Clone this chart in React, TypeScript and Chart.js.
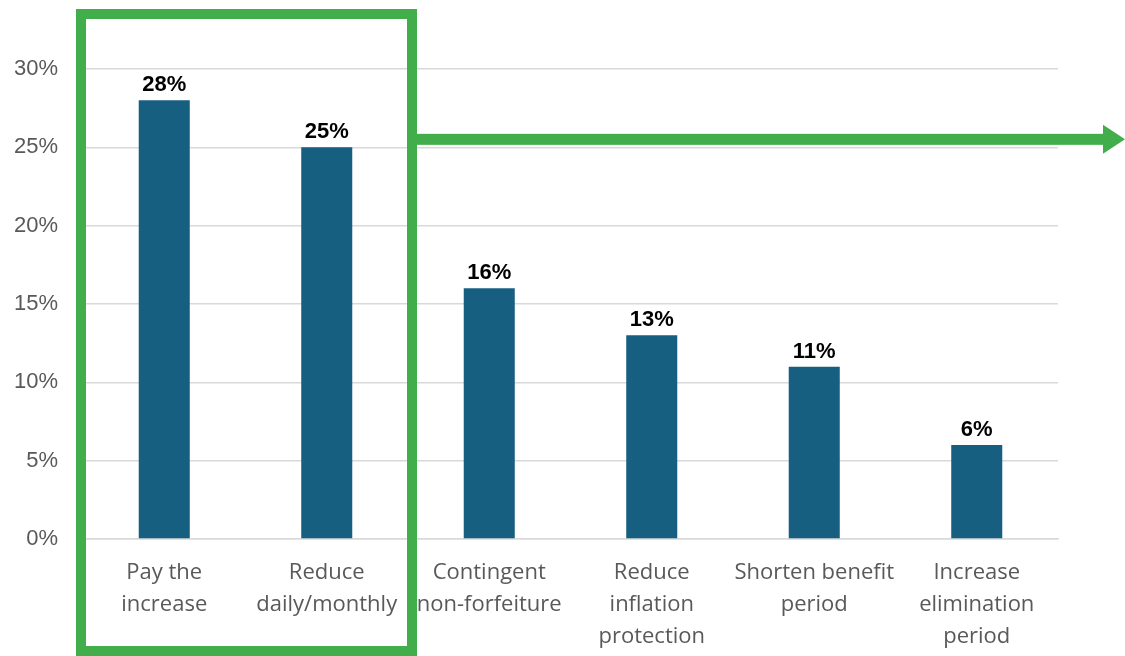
import React, { useEffect, useRef } from "react";
import { Chart, registerables } from "chart.js";

Chart.register(...registerables);

const categories: string[][] = [
  ["Pay the", "increase"],
  ["Reduce", "daily/monthly"],
  ["Contingent", "non-forfeiture"],
  ["Reduce", "inflation", "protection"],
  ["Shorten benefit", "period"],
  ["Increase", "elimination", "period"],
];
const shares: number[] = [28, 25, 16, 13, 11, 6];
const yTicks: number[] = [0, 5, 10, 15, 20, 25, 30];

const BAR = "#175f80";
const GREEN = "#42ad4b";
const GRID = "#d9d9d9";
const TXT = "#595959";

const labelPlugin = {
  id: "barLabels",
  afterDatasetsDraw(chart: any) {
    const ctx = chart.ctx;
    const meta = chart.getDatasetMeta(0);
    ctx.save();
    ctx.font = "bold 22px 'Liberation Sans', Arial, sans-serif";
    ctx.fillStyle = "#000000";
    ctx.textAlign = "center";
    ctx.textBaseline = "alphabetic";
    meta.data.forEach((el: any, i: number) => {
      ctx.fillText(shares[i] + "%", el.x, el.y - 9);
    });
    ctx.restore();
  },
};

const highlightPlugin = {
  id: "highlight",
  afterDraw(chart: any) {
    const ctx = chart.ctx;
    const x = chart.scales.x;
    const y = chart.scales.y;
    const half = (x.getPixelForValue(1) - x.getPixelForValue(0)) / 2;
    const left = x.getPixelForValue(0) - half - 2;
    const right = x.getPixelForValue(1) + half + 4;
    const top = 14;
    const bottom = chart.height - 5;
    ctx.save();
    ctx.strokeStyle = GREEN;
    ctx.lineWidth = 10;
    ctx.lineJoin = "miter";
    ctx.strokeRect(left, top, right - left, bottom - top);
    // arrow
    const ay = y.getPixelForValue(25) - 8;
    const headStart = chart.width - 22;
    ctx.fillStyle = GREEN;
    ctx.fillRect(right + 5, ay - 5.5, headStart - (right + 5) + 1, 11);
    ctx.beginPath();
    ctx.moveTo(headStart, ay - 14.5);
    ctx.lineTo(chart.width, ay);
    ctx.lineTo(headStart, ay + 14.5);
    ctx.closePath();
    ctx.fill();
    ctx.restore();
  },
};

export default function App() {
  const ref = useRef<HTMLCanvasElement | null>(null);
  useEffect(() => {
    if (!ref.current) return;
    const chart = new Chart(ref.current, {
      type: "bar",
      data: {
        labels: categories,
        datasets: [
          {
            data: shares,
            backgroundColor: BAR,
            borderWidth: 0,
            barPercentage: 0.314,
            categoryPercentage: 1,
          },
        ],
      },
      options: {
        animation: false,
        responsive: false,
        maintainAspectRatio: false,
        layout: { padding: { top: 69, right: 67, left: 0, bottom: 0 } },
        plugins: { legend: { display: false }, tooltip: { enabled: false } },
        scales: {
          x: {
            grid: { display: false, drawTicks: false },
            border: { display: true, color: GRID, width: 1.5 },
            ticks: {
              color: TXT,
              font: { family: "'Open Sans', sans-serif", size: 22, lineHeight: "32px" as any },
              padding: 18,
              maxRotation: 0,
              autoSkip: false,
            },
            afterFit: (s: any) => {
              s.height = 117;
            },
          },
          y: {
            min: 0,
            max: 30,
            afterBuildTicks: (s: any) => {
              s.ticks = yTicks.map((v) => ({ value: v }));
            },
            grid: { color: GRID, lineWidth: 1.5, drawTicks: false },
            border: { display: false },
            ticks: {
              color: TXT,
              font: { family: "'Liberation Sans', Arial, sans-serif", size: 22 },
              padding: 25,
              callback: (v: any) => v + "%",
            },
            afterFit: (s: any) => {
              s.width = 83;
            },
          },
        },
      },
      plugins: [labelPlugin, highlightPlugin],
    });
    return () => chart.destroy();
  }, []);
  return (
    <div style={{ position: "fixed", left: 0, top: 0, width: 1125, height: 656, background: "#fff" }}>
      <canvas ref={ref} width={1125} height={656} style={{ display: "block" }} />
    </div>
  );
}
